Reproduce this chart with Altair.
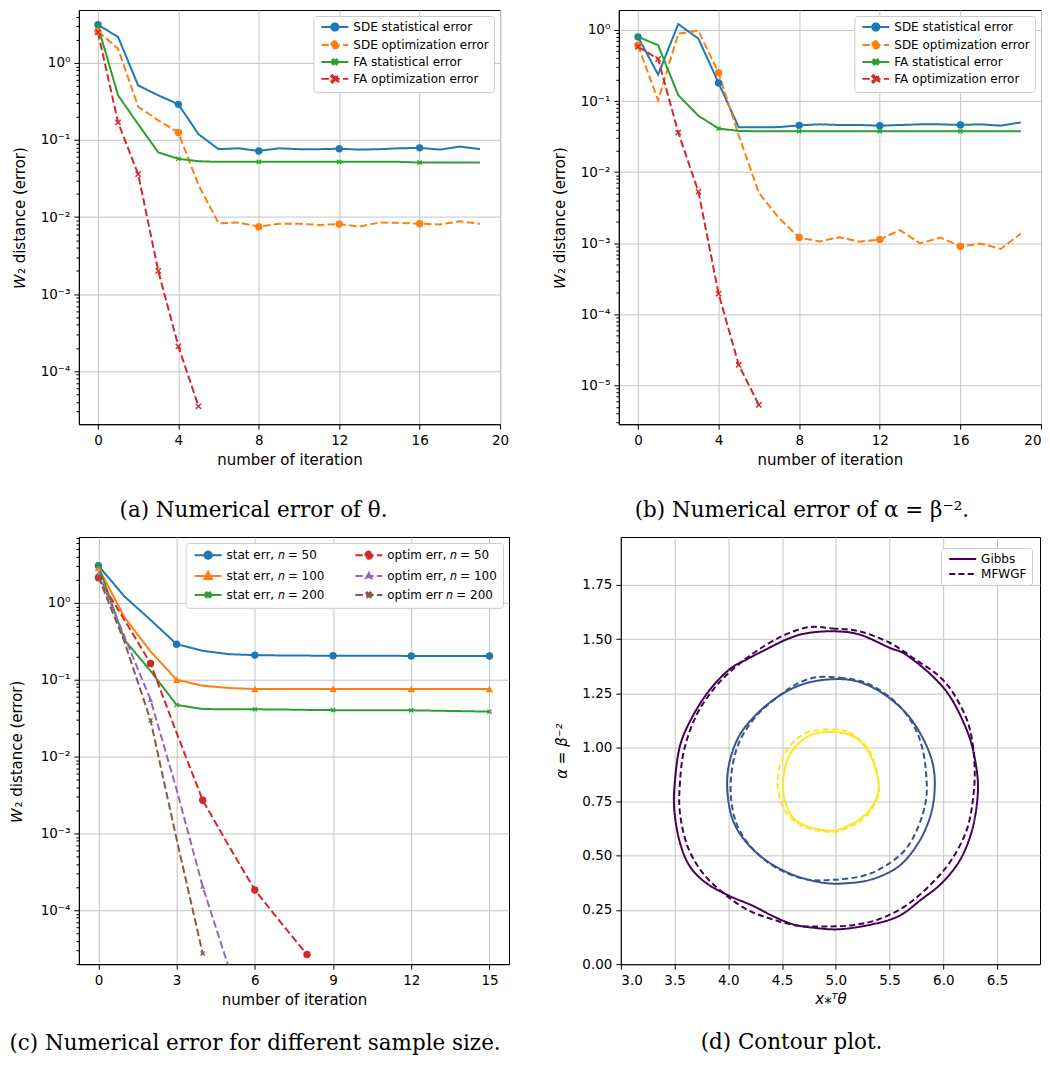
import altair as alt
import pandas as pd

# ---------------- data: (a) numerical error of theta ----------------
a_iter = list(range(20))
a_sde_stat = [3.13, 2.17, 0.51, 0.38, 0.29, 0.119, 0.076, 0.078, 0.072, 0.078,
              0.076, 0.076, 0.077, 0.075, 0.076, 0.078, 0.079, 0.075, 0.082, 0.076]
a_sde_opt = [2.57, 1.53, 0.27, 0.18, 0.125, 0.026, 0.0083, 0.0085, 0.0075, 0.0082,
             0.0082, 0.0079, 0.0081, 0.0075, 0.0085, 0.0084, 0.0082, 0.0080, 0.0088, 0.0082]
a_fa_stat = [3.0, 0.38, 0.16, 0.069, 0.057, 0.053, 0.052, 0.052, 0.052, 0.052,
             0.052, 0.052, 0.052, 0.052, 0.052, 0.052, 0.051, 0.051, 0.051, 0.051]
a_fa_opt = [2.5, 0.169, 0.036, 0.0020, 0.00021, 0.000035]

# ---------------- data: (b) numerical error of alpha ----------------
b_iter = list(range(20))
b_sde_stat = [0.80, 0.236, 1.21, 0.755, 0.179, 0.0427, 0.0427, 0.043, 0.0455, 0.047,
              0.046, 0.046, 0.045, 0.046, 0.047, 0.047, 0.046, 0.047, 0.045, 0.050]
b_sde_opt = [0.61, 0.102, 0.89, 0.97, 0.25, 0.033, 0.0051, 0.00226, 0.0012, 0.00106,
             0.00121, 0.00105, 0.00113, 0.00153, 0.00099, 0.0012, 0.0009, 0.00099, 0.00083, 0.00136]
b_fa_stat = [0.80, 0.61, 0.121, 0.062, 0.041, 0.038, 0.0375, 0.0375, 0.0375, 0.0375,
             0.0375, 0.0375, 0.0375, 0.0375, 0.0375, 0.0375, 0.0375, 0.0375, 0.0375, 0.0375]
b_fa_opt = [0.58, 0.39, 0.036, 0.0053, 0.000195, 0.0000194, 0.0000053]

SERIES_AB = ["SDE statistical error", "SDE optimization error",
             "FA statistical error", "FA optimization error"]

# ---------------- data: (c) different sample size ----------------
c_iter = list(range(16))
c_stat50 = [3.05, 1.21, 0.6, 0.29, 0.238, 0.215, 0.209, 0.207, 0.206, 0.205,
            0.205, 0.205, 0.204, 0.204, 0.204, 0.204]
c_stat100 = [2.87, 0.65, 0.233, 0.100, 0.0836, 0.078, 0.0757, 0.0757, 0.0757, 0.0757,
             0.0757, 0.0757, 0.0757, 0.0757, 0.0757, 0.0757]
c_stat200 = [3.05, 0.33, 0.13, 0.047, 0.0416, 0.0412, 0.0412, 0.041, 0.0405, 0.0402,
             0.0400, 0.0400, 0.0400, 0.0395, 0.039, 0.0384]
c_opt50 = [2.13, 0.6, 0.163, 0.0203, 0.0027, 0.00069, 0.000184, 0.000069, 0.0000266]
c_opt100 = [2.43, 0.365, 0.055, 0.0037, 0.000203, 0.000018]
c_opt200 = [2.2, 0.31, 0.0296, 0.00084, 0.0000274]

SERIES_C = ["stat err, 𝑛 = 50", "stat err, 𝑛 = 100", "stat err, 𝑛 = 200",
            "optim err, 𝑛 = 50", "optim err, 𝑛 = 100", "optim err 𝑛 = 200"]

# ---------------- data: (d) contour plot ----------------
d_gibbs_outer_x = [4.97, 5.22, 5.50, 5.65, 5.90, 6.08, 6.24, 6.31, 6.32, 6.27, 6.16, 5.99,
                   5.80, 5.59, 5.34, 5.03, 4.78, 4.60, 4.41, 4.23, 4.01, 3.79, 3.64, 3.55,
                   3.50, 3.50, 3.55, 3.67, 3.83, 4.01, 4.17, 4.35, 4.54, 4.72]
d_gibbs_outer_y = [1.536, 1.521, 1.460, 1.429, 1.329, 1.221, 1.052, 0.899, 0.776, 0.622,
                   0.484, 0.376, 0.300, 0.223, 0.184, 0.161, 0.169, 0.184, 0.223, 0.269,
                   0.315, 0.376, 0.453, 0.561, 0.699, 0.822, 1.006, 1.145, 1.267, 1.360,
                   1.406, 1.452, 1.498, 1.526]
d_mf_outer_x = [4.75, 4.97, 5.22, 5.50, 5.74, 5.96, 6.11, 6.24, 6.29, 6.28, 6.22, 6.08,
                5.90, 5.65, 5.40, 5.16, 4.91, 4.66, 4.41, 4.17, 3.95, 3.76, 3.62, 3.55,
                3.55, 3.59, 3.70, 3.86, 4.04, 4.26, 4.51]
d_mf_outer_y = [1.555, 1.549, 1.536, 1.483, 1.406, 1.329, 1.237, 1.098, 0.929, 0.776,
                0.622, 0.484, 0.376, 0.269, 0.207, 0.180, 0.174, 0.177, 0.207, 0.253,
                0.330, 0.422, 0.545, 0.699, 0.837, 0.991, 1.145, 1.267, 1.360, 1.444, 1.516]
d_gibbs_mid_x = [4.94, 5.19, 5.43, 5.65, 5.80, 5.90, 5.92, 5.88, 5.77, 5.59, 5.34, 5.09,
                 4.88, 4.63, 4.38, 4.17, 4.04, 3.99, 4.01, 4.10, 4.26, 4.47, 4.69]
d_gibbs_mid_y = [1.314, 1.306, 1.252, 1.160, 1.052, 0.929, 0.807, 0.684, 0.561, 0.453,
                 0.392, 0.373, 0.376, 0.407, 0.469, 0.561, 0.668, 0.807, 0.929, 1.052,
                 1.152, 1.237, 1.291]
d_mf_mid_x = [4.82, 5.04, 5.28, 5.53, 5.71, 5.80, 5.84, 5.84, 5.77, 5.65, 5.46, 5.25,
              4.97, 4.72, 4.47, 4.26, 4.10, 4.03, 4.03, 4.10, 4.26, 4.47, 4.63]
d_mf_mid_y = [1.324, 1.321, 1.298, 1.221, 1.114, 1.006, 0.883, 0.760, 0.638, 0.530,
              0.453, 0.407, 0.389, 0.392, 0.438, 0.515, 0.622, 0.745, 0.883, 1.022,
              1.145, 1.237, 1.291]
d_gibbs_in_x = [4.97, 5.16, 5.29, 5.37, 5.40, 5.34, 5.22, 5.03, 4.88, 4.69, 4.57, 4.51,
                4.54, 4.63, 4.78]
d_gibbs_in_y = [1.071, 1.052, 0.991, 0.899, 0.807, 0.730, 0.668, 0.622, 0.619, 0.645,
                0.699, 0.807, 0.929, 1.006, 1.060]
d_mf_in_x = [4.94, 5.12, 5.28, 5.37, 5.40, 5.37, 5.25, 5.03, 4.85, 4.66, 4.52, 4.46,
             4.49, 4.60, 4.75]
d_mf_in_y = [1.083, 1.071, 1.006, 0.914, 0.807, 0.745, 0.668, 0.615, 0.615, 0.645,
             0.714, 0.822, 0.929, 1.022, 1.071]

METHODS_D = ["Gibbs", "MFWGF"]
LEVELS_D = ["outer", "middle", "inner"]

# ---------------- styles ----------------
BLUE, ORANGE, GREEN, RED, PURPLE, BROWN = "#1f77b4", "#ff7f0e", "#2ca02c", "#d62728", "#9467bd", "#8c564b"
VIR = {"outer": "#440154", "middle": "#3b528b", "inner": "#fde725"}
SOLID = [1, 0]
DASH = [7.5, 3.3]
FONT = "DejaVu Sans"
CAPFONT = "DejaVu Serif"
CAPSIZE = 21.5


def x_path(cx=0.0, cy=0.0, h=1.0, a=0.32):
    pts = [(-1, -1 + a), (-1 + a, -1), (0, -a), (1 - a, -1), (1, -1 + a), (a, 0),
           (1, 1 - a), (1 - a, 1), (0, a), (-1 + a, 1), (-1, 1 - a), (-a, 0)]
    s = "M" + "L".join(f"{cx + px * h:.3f},{cy + py * h:.3f}" for px, py in pts) + "Z"
    return s


def circle_path(cx, r):
    return f"M{cx + r:.3f},0A{r},{r},0,1,1,{cx - r:.3f},0A{r},{r},0,1,1,{cx + r:.3f},0Z"


def tri_path(cx, r):
    return f"M{cx:.3f},{-1.1 * r:.3f}L{cx + r:.3f},{0.8 * r:.3f}L{cx - r:.3f},{0.8 * r:.3f}Z"


LINE_SEG = "M-1,0L8,0"
MC = 3.5  # legend marker centre (in symbol units)
MARK = {
    "circle": ("circle", LINE_SEG + circle_path(MC, 1.2)),
    "tri": ("triangle-up", LINE_SEG + tri_path(MC, 1.3)),
    "tri_s": ("triangle-up", LINE_SEG + tri_path(MC, 0.95)),
    "x": (x_path(), LINE_SEG + x_path(MC, 0, 1.2, 0.3)),
    "x_s": (x_path(a=0.36), LINE_SEG + x_path(MC, 0, 0.85, 0.36)),
}

MAJOR = "abs(datum.value / pow(10, round(log(datum.value) / LN10)) - 1) < 1e-6"
EXP = "('' + round(log(datum.value) / LN10))"
SUP = EXP
for k, v in [("-", "⁻"), ("0", "⁰"), ("1", "¹"), ("2", "²"), ("3", "³"),
             ("4", "⁴"), ("5", "⁵"), ("6", "⁶")]:
    SUP = f"replace({SUP}, '{k}', '{v}')"
LOG_LABEL = f"{MAJOR} ? '10' + {SUP} : ''"


def log_ticks(lo, hi):
    vals = []
    for e in range(-8, 3):
        for k in range(1, 10):
            v = float(f"{k}e{e}")
            if lo <= v <= hi:
                vals.append(v)
    return vals


def log_panel(series_names, values, iters, colors, dashes, markers, every,
              xdom, xticks, ydom, width, height, caption, cap_dx, cap_off, legend_kw, title_pad,
              flush=False):
    rows = []
    for name, vals, ev in zip(series_names, values, every):
        for i, v in enumerate(vals):
            rows.append({"series": name, "it": iters[i], "val": v, "mk": (i % ev == 0)})
    df = pd.DataFrame(rows)
    base = alt.Chart(df)
    x_enc = alt.X("it:Q", scale=alt.Scale(domain=xdom, nice=False, zero=False),
                  axis=alt.Axis(values=xticks, title="number of iteration", format="d",
                                tickSize=5, labelPadding=4, titlePadding=6, grid=True,
                                labelFlush=flush))
    y_enc = alt.Y("val:Q", scale=alt.Scale(type="log", domain=ydom, nice=False),
                  axis=alt.Axis(values=log_ticks(*ydom), labelExpr=LOG_LABEL,
                                title="𝑊₂ distance (error)", labelPadding=4,
                                titlePadding=title_pad,
                                tickSize={"condition": {"test": MAJOR, "value": 5}, "value": 3},
                                gridOpacity={"condition": {"test": MAJOR, "value": 1}, "value": 0}))
    layers = []
    for name, col, dash in zip(series_names, colors, dashes):
        layers.append(base.transform_filter(alt.datum.series == name)
                      .mark_line(color=col, strokeDash=dash, strokeWidth=2, clip=True)
                      .encode(x=x_enc, y=y_enc))
    for name, col, mk in zip(series_names, colors, markers):
        shape, _ = MARK[mk]
        size = 55 if mk in ("circle", "tri") else (40 if mk == "x" else 26)
        layers.append(base.transform_filter((alt.datum.series == name) & (alt.datum.mk == True))
                      .mark_point(shape=shape, filled=True, size=size, color=col, opacity=1,
                                  strokeWidth=0, clip=True)
                      .encode(x=x_enc, y=y_enc))
    leg = alt.Legend(title=None, **legend_kw)
    layers.append(base.transform_filter("false")
                  .mark_point(filled=True, size=36, strokeWidth=2, opacity=1)
                  .encode(color=alt.Color("series:N", scale=alt.Scale(domain=series_names, range=colors), legend=leg),
                          stroke=alt.Stroke("series:N", scale=alt.Scale(domain=series_names, range=colors), legend=leg),
                          shape=alt.Shape("series:N", scale=alt.Scale(domain=series_names,
                                                                       range=[MARK[m][1] for m in markers]), legend=leg),
                          strokeDash=alt.StrokeDash("series:N", scale=alt.Scale(domain=series_names, range=dashes),
                                                    legend=leg)))
    return alt.layer(*layers).properties(
        width=width, height=height,
        title=alt.TitleParams(caption, orient="bottom", font=CAPFONT, fontSize=CAPSIZE, fontWeight="normal",
                              color="black", anchor="middle", frame="group", dx=cap_dx, offset=cap_off))


LEG_AB = dict(orient="top-right", offset=6, labelFont=FONT, labelFontSize=12, labelColor="black",
              symbolSize=36, symbolStrokeWidth=2, symbolOpacity=1, labelOffset=23, rowPadding=2,
              padding=5, fillColor="white", strokeColor="#cccccc", cornerRadius=3)

pa = log_panel(SERIES_AB, [a_sde_stat, a_sde_opt, a_fa_stat, a_fa_opt], a_iter,
               [BLUE, ORANGE, GREEN, RED], [SOLID, DASH, SOLID, DASH],
               ["circle", "circle", "x_s", "x"], [4, 4, 4, 1],
               [-0.95, 20], [0, 4, 8, 12, 16, 20], [2.05e-5, 4.86], 422, 415,
               "(a) Numerical error of θ.", -36, 32, LEG_AB, 12.5)
pb = log_panel(SERIES_AB, [b_sde_stat, b_sde_opt, b_fa_stat, b_fa_opt], b_iter,
               [BLUE, ORANGE, GREEN, RED], [SOLID, DASH, SOLID, DASH],
               ["circle", "circle", "x_s", "x"], [4, 4, 4, 1],
               [-0.95, 20], [0, 4, 8, 12, 16, 20], [2.84e-6, 1.908], 423, 415,
               "(b) Numerical error of α = β⁻².", -28, 32, LEG_AB, 12.5, flush=True)

# legend in (c): two columns, filled column by column
c_vals = [c_stat50, c_stat100, c_stat200, c_opt50, c_opt100, c_opt200]
c_cols = [BLUE, ORANGE, GREEN, RED, PURPLE, BROWN]
c_dash = [SOLID, SOLID, SOLID, DASH, DASH, DASH]
c_mk = ["circle", "tri", "x_s", "circle", "tri_s", "x_s"]
c_every = [3, 3, 3, 2, 2, 2]
LEG_C = dict(LEG_AB, labelFontSize=12, columns=2, columnPadding=26, rowPadding=4, offset=6, padding=6)
pc = log_panel(SERIES_C, c_vals, c_iter, c_cols, c_dash, c_mk, c_every,
               [-0.75, 15.75], [0, 3, 6, 9, 12, 15], [1.99e-5, 7.2], 431, 428,
               "(c) Numerical error for different sample size.", -39, 25.5, LEG_C, 15.5)

# ---------------- (d) contour ----------------
rows = []
for meth, lev, xs, ys in [("Gibbs", "outer", d_gibbs_outer_x, d_gibbs_outer_y),
                          ("MFWGF", "outer", d_mf_outer_x, d_mf_outer_y),
                          ("Gibbs", "middle", d_gibbs_mid_x, d_gibbs_mid_y),
                          ("MFWGF", "middle", d_mf_mid_x, d_mf_mid_y),
                          ("Gibbs", "inner", d_gibbs_in_x, d_gibbs_in_y),
                          ("MFWGF", "inner", d_mf_in_x, d_mf_in_y)]:
    for i, (xv, yv) in enumerate(zip(xs, ys)):
        rows.append({"method": meth, "level": lev, "idx": i, "x": xv, "y": yv})
ddf = pd.DataFrame(rows)
dbase = alt.Chart(ddf)
dx_enc = alt.X("x:Q", scale=alt.Scale(domain=[3.0, 6.90], nice=False, zero=False),
               axis=alt.Axis(values=[3.0, 3.5, 4.0, 4.5, 5.0, 5.5, 6.0, 6.5], format=".1f",
                             title="x⁎ᵀθ", titleFontStyle="italic", tickSize=5, labelPadding=4,
                             titlePadding=5))
dy_enc = alt.Y("y:Q", scale=alt.Scale(domain=[0, 1.971], nice=False, zero=False),
               axis=alt.Axis(values=[0, 0.25, 0.5, 0.75, 1.0, 1.25, 1.5, 1.75], format=".2f",
                             title="α = β⁻²", titleFontStyle="italic", tickSize=5, labelPadding=4,
                             titlePadding=12.5))
dlayers = []
for lev in LEVELS_D:
    for meth in METHODS_D:
        dlayers.append(dbase.transform_filter((alt.datum.method == meth) & (alt.datum.level == lev))
                       .mark_line(color=VIR[lev], strokeWidth=2, interpolate="cardinal-closed",
                                  strokeDash=SOLID if meth == "Gibbs" else [6, 3.3])
                       .encode(x=dx_enc, y=dy_enc, order=alt.Order("idx:Q")))
LEG_D = dict(orient="none", legendX=321, legendY=11, labelFont=FONT, labelFontSize=12, labelColor="black",
             symbolSize=36, symbolStrokeWidth=2, symbolOpacity=1, labelOffset=23, rowPadding=3,
             padding=5, fillColor="white", strokeColor="#cccccc", cornerRadius=3,
             symbolStrokeColor=VIR["outer"], title=None)
dlayers.append(dbase.transform_filter("false")
               .mark_point(filled=False, size=36, strokeWidth=2, color=VIR["outer"], opacity=1)
               .encode(shape=alt.Shape("method:N", scale=alt.Scale(domain=METHODS_D,
                                                                    range=[LINE_SEG, LINE_SEG]),
                                       legend=alt.Legend(**LEG_D)),
                       strokeDash=alt.StrokeDash("method:N", scale=alt.Scale(domain=METHODS_D,
                                                                             range=[SOLID, [6, 3.3]]),
                                                 legend=alt.Legend(**LEG_D))))
pd_ = alt.layer(*dlayers).properties(
    width=420, height=428,
    title=alt.TitleParams("(d) Contour plot.", orient="bottom", font=CAPFONT, fontSize=CAPSIZE,
                          fontWeight="normal", color="black", anchor="middle", frame="group",
                          dx=-39, offset=25.5))

IND = dict(color="independent", stroke="independent", shape="independent", strokeDash="independent")


def indep(ch):
    return ch.resolve_scale(**IND).resolve_legend(**IND)


row1 = indep(alt.hconcat(pa, pb, spacing=42))
row2 = indep(alt.hconcat(pc, pd_, spacing=43))
chart = indep(alt.vconcat(row1, row2, spacing=14)).properties(
    padding={"left": 0, "top": 0, "right": 0, "bottom": 0}
).configure_view(stroke="black", strokeWidth=1).configure_axis(
    labelFont=FONT, labelFontSize=13.5, labelColor="black", titleFont=FONT, titleFontSize=15,
    titleFontWeight="normal", titleColor="black", domainColor="black", tickColor="black",
    gridColor="#c4c4c4", gridWidth=1, domainWidth=1, tickWidth=1
)

chart.save("out.html", embed_options={"renderer": "svg", "actions": False})
